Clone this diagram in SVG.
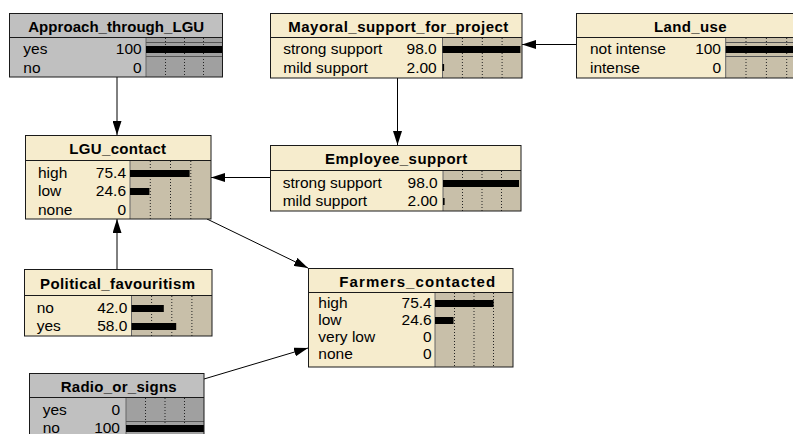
<svg xmlns="http://www.w3.org/2000/svg" width="793" height="434" viewBox="0 0 793 434">
<defs>
<style>
.t{font-family:"Liberation Sans",Arial,sans-serif;font-size:15px;font-weight:bold;fill:#000;text-anchor:middle}
.s{font-family:"Liberation Sans",Arial,sans-serif;font-size:15.5px;fill:#000}
.n{font-family:"Liberation Sans",Arial,sans-serif;font-size:15.5px;fill:#000;text-anchor:end}
.beige{fill:#F6ECCD}
.tan{fill:#C8BFA9}
.gray{fill:#C0C0C0}
.dgray{fill:#A0A0A0}
.border{fill:none;stroke:#1a1a1a;stroke-width:1}
.sep{stroke:#1a1a1a;stroke-width:1}
.bl{stroke:#666;stroke-width:1}
.dot{stroke:#222;stroke-width:1;stroke-dasharray:1 2}
.bar{fill:#000}
.hl{stroke:#555;stroke-width:1}
.edge{stroke:#000;stroke-width:1;fill:none;marker-end:url(#ah)}
</style>
<marker id="ah" markerUnits="userSpaceOnUse" viewBox="0 0 14 9" refX="14" refY="4.5" markerWidth="14" markerHeight="9" orient="auto">
<path d="M0,0 L14,4.5 L0,9 z" fill="#000"/>
</marker>
</defs>

<g id="connectors">
<path class="edge" d="M117,77 L117,135"/>
<path class="edge" d="M397.5,78 L397.5,145"/>
<path class="edge" d="M576,44.5 L522,44.5"/>
<path class="edge" d="M270,177.5 L211,177.5"/>
<path class="edge" d="M117,269 L117,219"/>
<path class="edge" d="M207,219 L308,268"/>
<path class="edge" d="M204,379 L308,348"/>
</g>

<g id="Approach_through_LGU">
<rect class="gray" x="9" y="13" width="214" height="64"/>
<rect class="dgray" x="146" y="37" width="77" height="40"/>
<line class="bl" x1="146" y1="37" x2="146" y2="77"/>
<line class="dot" x1="165.5" y1="38" x2="165.5" y2="77"/>
<line class="dot" x1="184.5" y1="38" x2="184.5" y2="77"/>
<line class="dot" x1="203.5" y1="38" x2="203.5" y2="77"/>
<line class="hl" x1="146" y1="42.5" x2="223" y2="42.5"/>
<line class="hl" x1="146" y1="56.5" x2="223" y2="56.5"/>
<rect class="bar" x="146" y="46" width="77" height="7"/>
<line class="sep" x1="9" y1="37.5" x2="223" y2="37.5"/>
<rect class="border" x="9.5" y="13.5" width="213" height="63.5"/>
<text class="t" x="116.2" y="31.5" textLength="176" lengthAdjust="spacing">Approach_through_LGU</text>
<text class="s" x="23.3" y="54">yes</text><text class="n" x="141.7" y="54">100</text>
<text class="s" x="23.3" y="72.5">no</text><text class="n" x="141.7" y="72.5">0</text>
</g>

<g id="Mayoral_support_for_project">
<rect class="beige" x="270" y="13" width="252" height="65"/>
<rect class="tan" x="442.5" y="37" width="79.5" height="41"/>
<line class="bl" x1="442.5" y1="37" x2="442.5" y2="78"/>
<line class="dot" x1="462.4" y1="38" x2="462.4" y2="78"/>
<line class="dot" x1="482.3" y1="38" x2="482.3" y2="78"/>
<line class="dot" x1="502.1" y1="38" x2="502.1" y2="78"/>
<rect class="bar" x="442.5" y="46" width="77.9" height="7"/>
<rect class="bar" x="442.5" y="64" width="1.6" height="7"/>
<line class="sep" x1="270" y1="37.5" x2="522" y2="37.5"/>
<rect class="border" x="270.5" y="13.5" width="251.5" height="64.5"/>
<text class="t" x="398.3" y="31.5" textLength="220" lengthAdjust="spacing">Mayoral_support_for_project</text>
<text class="s" x="283.3" y="54">strong support</text><text class="n" x="436.7" y="54">98.0</text>
<text class="s" x="283.3" y="72.5">mild support</text><text class="n" x="436.7" y="72.5">2.00</text>
</g>

<g id="Land_use">
<rect class="beige" x="576" y="13" width="231" height="65"/>
<rect class="tan" x="725.7" y="37" width="81.3" height="41"/>
<line class="bl" x1="725.7" y1="37" x2="725.7" y2="78"/>
<line class="dot" x1="746" y1="38" x2="746" y2="78"/>
<line class="dot" x1="766.4" y1="38" x2="766.4" y2="78"/>
<line class="dot" x1="786.7" y1="38" x2="786.7" y2="78"/>
<line class="hl" x1="725.7" y1="42.5" x2="807" y2="42.5"/>
<line class="hl" x1="725.7" y1="56.5" x2="807" y2="56.5"/>
<rect class="bar" x="725.7" y="46" width="81.3" height="7"/>
<line class="sep" x1="576" y1="37.5" x2="807" y2="37.5"/>
<rect class="border" x="576.5" y="13.5" width="230.5" height="64.5"/>
<text class="t" x="690.3" y="31.5" textLength="72.7" lengthAdjust="spacing">Land_use</text>
<text class="s" x="590" y="54">not intense</text><text class="n" x="721" y="54">100</text>
<text class="s" x="590" y="72.5">intense</text><text class="n" x="721" y="72.5">0</text>
</g>

<g id="LGU_contact">
<rect class="beige" x="25" y="135" width="186" height="84"/>
<rect class="tan" x="130" y="160" width="81" height="59"/>
<line class="bl" x1="130" y1="160" x2="130" y2="219"/>
<line class="dot" x1="150.3" y1="161" x2="150.3" y2="219"/>
<line class="dot" x1="170.5" y1="161" x2="170.5" y2="219"/>
<line class="dot" x1="190.8" y1="161" x2="190.8" y2="219"/>
<rect class="bar" x="130" y="170" width="59.6" height="7"/>
<rect class="bar" x="130" y="188" width="19.4" height="7"/>
<line class="sep" x1="25" y1="160.5" x2="211" y2="160.5"/>
<rect class="border" x="25.5" y="135.5" width="185.5" height="83.5"/>
<text class="t" x="117.7" y="154.3" textLength="96.7" lengthAdjust="spacing">LGU_contact</text>
<text class="s" x="38" y="178">high</text><text class="n" x="126" y="178">75.4</text>
<text class="s" x="38" y="196">low</text><text class="n" x="126" y="196">24.6</text>
<text class="s" x="38" y="214.5">none</text><text class="n" x="126" y="214.5">0</text>
</g>

<g id="Employee_support">
<rect class="beige" x="270" y="145" width="251" height="66"/>
<rect class="tan" x="443" y="170" width="78" height="41"/>
<line class="bl" x1="443" y1="170" x2="443" y2="211"/>
<line class="dot" x1="462.5" y1="171" x2="462.5" y2="211"/>
<line class="dot" x1="482" y1="171" x2="482" y2="211"/>
<line class="dot" x1="501.5" y1="171" x2="501.5" y2="211"/>
<rect class="bar" x="443" y="180" width="76" height="7"/>
<rect class="bar" x="443" y="198" width="1.6" height="7"/>
<line class="sep" x1="270" y1="170.5" x2="521" y2="170.5"/>
<rect class="border" x="270.5" y="145.5" width="250.5" height="65.5"/>
<text class="t" x="396.2" y="164" textLength="142.3" lengthAdjust="spacing">Employee_support</text>
<text class="s" x="282.7" y="188">strong support</text><text class="n" x="437.7" y="188">98.0</text>
<text class="s" x="282.7" y="206">mild support</text><text class="n" x="437.7" y="206">2.00</text>
</g>

<g id="Political_favouritism">
<rect class="beige" x="24" y="269" width="188" height="67"/>
<rect class="tan" x="131.5" y="295" width="80.5" height="41"/>
<line class="bl" x1="131.5" y1="295" x2="131.5" y2="336"/>
<line class="dot" x1="151.6" y1="296" x2="151.6" y2="336"/>
<line class="dot" x1="171.8" y1="296" x2="171.8" y2="336"/>
<line class="dot" x1="191.9" y1="296" x2="191.9" y2="336"/>
<rect class="bar" x="131.5" y="305" width="32.3" height="7"/>
<rect class="bar" x="131.5" y="323" width="44.7" height="7"/>
<line class="sep" x1="24" y1="295.5" x2="212" y2="295.5"/>
<rect class="border" x="24.5" y="269.5" width="187.5" height="66.5"/>
<text class="t" x="117.5" y="289.3" textLength="155" lengthAdjust="spacing">Political_favouritism</text>
<text class="s" x="36.7" y="313">no</text><text class="n" x="127.3" y="313">42.0</text>
<text class="s" x="36.7" y="331">yes</text><text class="n" x="127.3" y="331">58.0</text>
</g>

<g id="Farmers_contacted">
<rect class="beige" x="308" y="268" width="205" height="99"/>
<rect class="tan" x="435" y="292" width="78" height="75"/>
<line class="bl" x1="435" y1="292" x2="435" y2="367"/>
<line class="dot" x1="454.5" y1="293" x2="454.5" y2="367"/>
<line class="dot" x1="474" y1="293" x2="474" y2="367"/>
<line class="dot" x1="493.5" y1="293" x2="493.5" y2="367"/>
<rect class="bar" x="435" y="300" width="58.6" height="7"/>
<rect class="bar" x="435" y="317" width="18.5" height="7"/>
<line class="sep" x1="308" y1="292.5" x2="513" y2="292.5"/>
<rect class="border" x="308.5" y="268.5" width="204.5" height="98.5"/>
<text class="t" x="417.2" y="286.7" textLength="155.7" lengthAdjust="spacing">Farmers_contacted</text>
<text class="s" x="318.3" y="308">high</text><text class="n" x="431.7" y="308">75.4</text>
<text class="s" x="318.3" y="325">low</text><text class="n" x="431.7" y="325">24.6</text>
<text class="s" x="318.3" y="342">very low</text><text class="n" x="431.7" y="342">0</text>
<text class="s" x="318.3" y="359">none</text><text class="n" x="431.7" y="359">0</text>
</g>

<g id="Radio_or_signs">
<rect class="gray" x="29" y="373" width="175" height="72"/>
<rect class="dgray" x="126" y="397" width="78" height="48"/>
<line class="bl" x1="126" y1="397" x2="126" y2="445"/>
<line class="dot" x1="145.5" y1="398" x2="145.5" y2="445"/>
<line class="dot" x1="165" y1="398" x2="165" y2="445"/>
<line class="dot" x1="184.5" y1="398" x2="184.5" y2="445"/>
<line class="hl" x1="126" y1="421.5" x2="204" y2="421.5"/>
<rect class="bar" x="126" y="425" width="78" height="7"/>
<line class="sep" x1="29" y1="397.5" x2="204" y2="397.5"/>
<rect class="border" x="29.5" y="373.5" width="174.5" height="71.5"/>
<text class="t" x="118.7" y="391.7" textLength="116" lengthAdjust="spacing">Radio_or_signs</text>
<text class="s" x="42.7" y="415">yes</text><text class="n" x="120" y="415">0</text>
<text class="s" x="42.7" y="433">no</text><text class="n" x="120" y="433">100</text>
</g>
</svg>
